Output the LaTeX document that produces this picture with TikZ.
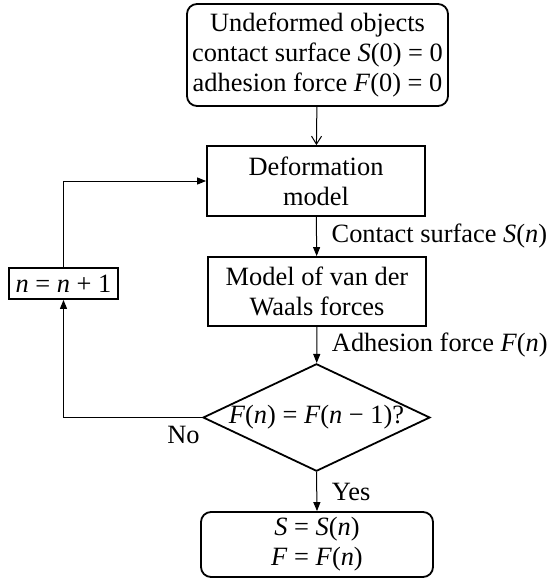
\documentclass[tikz,border=0pt]{standalone}
\usepackage{fontspec}
\setmainfont{Liberation Serif}
\usepackage{tikz}
\usetikzlibrary{positioning,shapes,arrows.meta}

\newcommand{\var}[1]{\textit{#1}}

\begin{document}
\begin{tikzpicture}[x=0.5pt,y=-0.5pt,
    font=\fontsize{13.2}{15}\selectfont,
    box/.style={draw,line width=0.9pt,align=center,inner sep=0pt},
    rbox/.style={box,rounded corners=5pt},
    cond/.style={box,diamond,aspect=2.1},
    arr/.style={-{Triangle[length=4.5pt,width=3.5pt]},line width=0.5pt}]
    \useasboundingbox (0,0) rectangle (549,579);

    % Draw start box
    \node[rbox,minimum width=130.5pt,minimum height=51pt] (start) at (317.5,55)
        {Undeformed objects\\contact surface \var{S}(0) = 0\\adhesion force \var{F}(0) = 0};

    % Draw model boxes
    \node[box,minimum width=109pt,minimum height=35pt] (deform) at (316,181) {Deformation\\model};
    \node[box,minimum width=109pt,minimum height=34.5pt] (vdw) at (317,291.5) {Model of van der\\Waals forces};

    % Draw counter box
    \node[box,minimum width=54.5pt,minimum height=15.5pt] (count) at (63.5,283.5) {\var{n} = \var{n} + 1};

    % Draw test
    \node[cond,minimum width=113.5pt,minimum height=53.5pt] (test) at (316.5,417.5) {\var{F}(\var{n}) = \var{F}(\var{n} − 1)?};

    % Draw result box
    \node[rbox,minimum width=116pt,minimum height=32.5pt] (result) at (317,544.5) {\var{S} = \var{S}(\var{n})\\\var{F} = \var{F}(\var{n})};

    % Draw arrows
    \draw[-{Straight Barb[length=4pt,width=5pt]},line width=0.5pt] (start) -- (deform);
    \draw[arr] (deform) -- node[right=4pt] {Contact surface \var{S}(\var{n})} (vdw);
    \draw[arr] (vdw) -- node[right=4pt] {Adhesion force \var{F}(\var{n})} (test);
    \draw[arr] (test.west) -- node[pos=0,below left=3pt and 0pt,inner sep=1pt] {No} ++(-138,0) -| (count.south);
    \draw[arr] (count.north) |- (deform.west);
    \draw[arr] (test.south) -- node[right=4pt] {Yes} (result.north);
\end{tikzpicture}
\end{document}
